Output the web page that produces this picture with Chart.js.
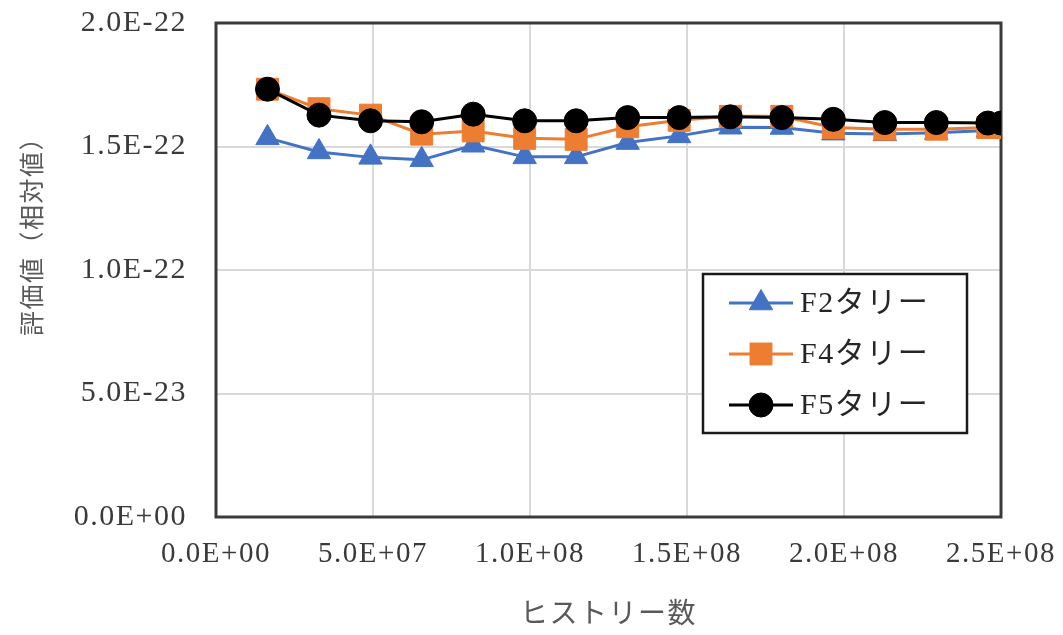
<!DOCTYPE html>
<html lang="ja">
<head>
<meta charset="utf-8">
<title>評価値とヒストリー数</title>
<script src="https://cdn.jsdelivr.net/npm/chart.js@4.4.0/dist/chart.umd.min.js"></script>
<style>
  html, body { margin: 0; padding: 0; background: #fff; }
  #wrap { width: 1063px; height: 635px; }
</style>
</head>
<body>
<div id="wrap"><canvas id="chart" width="1063" height="635"></canvas></div>
<script>
/* ── DATA (y values in units of 1E-22) ── */
const xValues  = [16400000, 32800000, 49200000, 65500000, 81900000, 98300000, 114700000, 131100000,
                  147500000, 163800000, 180200000, 196600000, 213000000, 229400000, 245800000, 250000000];
const f2Values = [1.535, 1.478, 1.456, 1.446, 1.505, 1.458, 1.458, 1.516,
                  1.543, 1.578, 1.577, 1.554, 1.551, 1.556, 1.565, 1.560];
const f4Values = [1.732, 1.653, 1.627, 1.550, 1.563, 1.533, 1.529, 1.580,
                  1.606, 1.622, 1.622, 1.577, 1.570, 1.570, 1.577, 1.577];
const f5Values = [1.732, 1.627, 1.604, 1.600, 1.631, 1.604, 1.604, 1.617,
                  1.617, 1.620, 1.617, 1.610, 1.597, 1.597, 1.595, 1.595];

const seriesNames = ['F2タリー', 'F4タリー', 'F5タリー'];
const xTickLabels = ['0.0E+00', '5.0E+07', '1.0E+08', '1.5E+08', '2.0E+08', '2.5E+08'];
const yTickLabels = ['0.0E+00', '5.0E-23', '1.0E-22', '1.5E-22', '2.0E-22'];
const xTitle = 'ヒストリー数';
const yTitle = '評価値（相対値）';

/* ── STYLE ── */
const FONT_FAMILY = "'Liberation Serif', 'Noto Sans CJK JP', serif";
const TICK_COLOR  = '#3a3a3a';
const TITLE_COLOR = '#595959';
const GRID_COLOR  = '#d9d9d9';

function pts(ys) {
  return ys.map((y, i) => ({ x: xValues[i], y: y }));
}

/* a little letter spacing to mimic the stretched text of the original */
const spacingPlugin = {
  id: 'spacing',
  beforeUpdate(chart) { chart.ctx.letterSpacing = '1.5px'; }
};

/* full dark frame round the plot area */
const framePlugin = {
  id: 'frame',
  beforeDatasetsDraw(chart) {
    const { ctx, chartArea: a } = chart;
    ctx.save();
    ctx.strokeStyle = '#3a3a3a';
    ctx.lineWidth = 3;
    ctx.strokeRect(a.left, a.top, a.right - a.left, a.bottom - a.top);
    ctx.restore();
  }
};

/* rotated y-axis title */
const yTitlePlugin = {
  id: 'yTitle',
  afterDraw(chart) {
    const ctx = chart.ctx;
    ctx.save();
    ctx.translate(31, 230);
    ctx.rotate(-Math.PI / 2);
    ctx.font = "25px 'Noto Sans CJK JP', sans-serif";
    ctx.fillStyle = TITLE_COLOR;
    ctx.textAlign = 'center';
    ctx.textBaseline = 'middle';
    ctx.fillText(yTitle, 0, 0);
    ctx.restore();
  }
};

/* boxed legend with line + marker samples */
const legendPlugin = {
  id: 'boxLegend',
  afterDraw(chart) {
    const ctx = chart.ctx;
    const box = { x: 703, y: 274, w: 264, h: 159 };
    ctx.save();
    ctx.fillStyle = '#fff';
    ctx.fillRect(box.x, box.y, box.w, box.h);
    ctx.strokeStyle = '#1a1a1a';
    ctx.lineWidth = 2.5;
    ctx.strokeRect(box.x, box.y, box.w, box.h);

    chart.data.datasets.forEach((ds, i) => {
      const y = 303 + i * 51;
      ctx.strokeStyle = ds.borderColor;
      ctx.lineWidth = ds.borderWidth;
      ctx.beginPath();
      ctx.moveTo(729, y);
      ctx.lineTo(793, y);
      ctx.stroke();

      ctx.fillStyle = ds.pointBackgroundColor;
      ctx.strokeStyle = ds.pointBorderColor;
      ctx.lineWidth = 1;
      Chart.helpers.drawPoint(ctx, {
        pointStyle: ds.pointStyle, rotation: 0,
        radius: ds.pointRadius, borderWidth: 1
      }, 761, y);

      ctx.fillStyle = '#262626';
      ctx.font = '30px ' + FONT_FAMILY;
      ctx.textAlign = 'left';
      ctx.textBaseline = 'middle';
      ctx.fillText(ds.label, 800, y + 1);
    });
    ctx.restore();
  }
};

function makeSeries(label, values, color, style, radius, order) {
  return {
    label: label,
    data: pts(values),
    borderColor: color,
    backgroundColor: color,
    borderWidth: 3,
    pointStyle: style,
    pointRadius: radius,
    pointBackgroundColor: color,
    pointBorderColor: color,
    pointBorderWidth: 1,
    tension: 0,
    fill: false,
    order: order
  };
}

new Chart(document.getElementById('chart').getContext('2d'), {
  type: 'line',
  data: {
    datasets: [
      makeSeries(seriesNames[0], f2Values, '#4472C4', 'triangle', 13.5, 3),
      makeSeries(seriesNames[1], f4Values, '#ED7D31', 'rect', 15.5, 2),
      makeSeries(seriesNames[2], f5Values, '#000000', 'circle', 12, 1)
    ]
  },
  options: {
    responsive: false,
    animation: false,
    layout: { padding: { top: 23, right: 62, bottom: 0, left: 0 } },
    plugins: {
      legend:  { display: false },
      tooltip: { enabled: false }
    },
    scales: {
      x: {
        type: 'linear',
        min: 0,
        max: 250000000,
        afterFit(scale) {
          scale.height = 118;
          scale.paddingLeft = 0;
          scale.paddingRight = 0;
        },
        border: { display: false },
        grid: { color: GRID_COLOR, lineWidth: 2, drawTicks: false },
        ticks: {
          stepSize: 50000000,
          padding: 20,
          autoSkip: false,
          maxRotation: 0,
          color: TICK_COLOR,
          font: { family: FONT_FAMILY, size: 29 },
          callback: (v, i) => xTickLabels[i]
        },
        title: {
          display: true,
          text: xTitle,
          color: TITLE_COLOR,
          font: { family: "'Noto Sans CJK JP', sans-serif", size: 28 },
          padding: { top: 0, bottom: 6 }
        }
      },
      y: {
        min: 0,
        max: 2,
        afterFit(scale) {
          scale.width = 216;
          scale.paddingTop = 0;
          scale.paddingBottom = 0;
        },
        border: { display: false },
        grid: { color: GRID_COLOR, lineWidth: 2, drawTicks: false },
        ticks: {
          stepSize: 0.5,
          padding: 29,
          color: TICK_COLOR,
          font: { family: FONT_FAMILY, size: 30 },
          callback: (v, i) => yTickLabels[i]
        }
      }
    }
  },
  plugins: [spacingPlugin, framePlugin, yTitlePlugin, legendPlugin]
});
</script>
</body>
</html>
